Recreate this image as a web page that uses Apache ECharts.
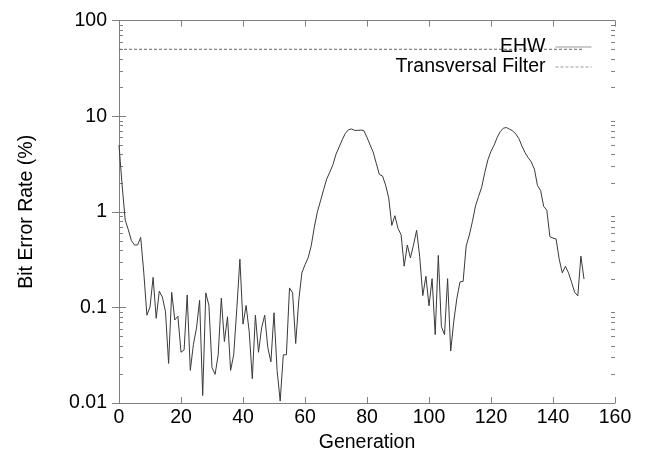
<!DOCTYPE html>
<html>
<head>
<meta charset="utf-8">
<script src="https://cdn.jsdelivr.net/npm/echarts@6/dist/echarts.min.js"></script>
<style>
html,body{margin:0;padding:0;background:#fff;}
#chart{width:646px;height:458px;}
</style>
</head>
<body>
<div id="chart"></div>
<script>
// EHW bit error rate per generation (generation = index, 0..150)
var ehw = [
 5.0, 1.9, 0.82, 0.65, 0.50, 0.45, 0.45, 0.54, 0.23, 0.083,
 0.101, 0.206, 0.077, 0.148, 0.128, 0.09, 0.026, 0.144, 0.074, 0.081,
 0.034, 0.036, 0.135, 0.022, 0.041, 0.061, 0.119, 0.012, 0.142, 0.105,
 0.0235, 0.020, 0.032, 0.125, 0.044, 0.080, 0.022, 0.032, 0.097, 0.32,
 0.067, 0.105, 0.056, 0.018, 0.083, 0.034, 0.061, 0.083, 0.038, 0.027,
 0.088, 0.022, 0.0105, 0.032, 0.032, 0.160, 0.142, 0.042, 0.12, 0.23,
 0.28, 0.33, 0.44, 0.69, 1.0, 1.3, 1.7, 2.2, 2.6, 3.1,
 4.0, 4.75, 5.65, 6.6, 7.2, 7.35, 7.1, 7.1, 7.15, 7.05,
 6.0, 5.0, 4.2, 3.2, 2.45, 2.37, 1.9, 1.4, 0.72, 0.91,
 0.67, 0.575, 0.27, 0.45, 0.33, 0.45, 0.64, 0.34, 0.133, 0.212,
 0.104, 0.20, 0.052, 0.35, 0.063, 0.052, 0.20, 0.035, 0.072, 0.125,
 0.185, 0.187, 0.44, 0.57, 0.79, 1.15, 1.45, 1.81, 2.58, 3.5,
 4.3, 4.97, 6.0, 6.9, 7.5, 7.6, 7.3, 7.03, 6.5, 5.82,
 4.85, 4.14, 3.68, 3.32, 2.79, 1.88, 1.67, 1.14, 1.04, 0.55,
 0.53, 0.52, 0.32, 0.23, 0.27, 0.23, 0.183, 0.144, 0.132, 0.344,
 0.198
];
// Transversal filter (constant)
var tfGen = [0, 150];
var tfValue = [50, 50];

var seriesNames = ['EHW', 'Transversal Filter'];
var xTicks = [0, 20, 40, 60, 80, 100, 120, 140, 160];
var yTicks = [0.01, 0.1, 1, 10, 100];
var yTickLabels = ['0.01', '0.1', '1', '10', '100'];
var yMinorTicks = [0.02,0.03,0.04,0.05,0.06,0.07,0.08,0.09,
                   0.2,0.3,0.4,0.5,0.6,0.7,0.8,0.9,
                   2,3,4,5,6,7,8,9,
                   20,30,40,50,60,70,80,90];

var FONT = 'Liberation Sans, Arial, Helvetica, sans-serif';
var AXIS_COLOR = '#808080';
var FS = 19.5;

function yLabel(v) {
  var best = 0, bd = Infinity;
  for (var i = 0; i < yTicks.length; i++) {
    var d = Math.abs(Math.log10(v) - Math.log10(yTicks[i]));
    if (d < bd) { bd = d; best = i; }
  }
  return yTickLabels[best];
}

var ehwData = ehw.map(function (v, i) { return [i, v]; });
var tfData = tfGen.map(function (g, i) { return [g, tfValue[i]]; });
var minorData = yMinorTicks.map(function (v) { return [xTicks[0], v]; });

var chart = echarts.init(document.getElementById('chart'), null, {renderer: 'canvas'});
chart.setOption({
  animation: false,
  backgroundColor: '#ffffff',
  textStyle: {fontFamily: FONT},
  grid: {left: 119, right: 31, top: 20.5, bottom: 49, containLabel: false},
  legend: {
    data: [
      {name: seriesNames[0], itemStyle: {opacity: 0}, lineStyle: {color: '#999', width: 1}},
      {name: seriesNames[1], itemStyle: {opacity: 0}, lineStyle: {color: '#999', width: 1}}
    ],
    orient: 'vertical',
    align: 'right',
    right: 49,
    top: 32,
    itemWidth: 36,
    itemHeight: 14,
    itemGap: 0,
    lineStyle: {width: 1},
    itemStyle: {opacity: 0},
    textStyle: {fontSize: FS, color: '#000', fontFamily: FONT, lineHeight: 19, padding: [0, 5, 0, 0]}
  },
  xAxis: [{
    type: 'value', position: 'bottom', min: xTicks[0], max: xTicks[xTicks.length - 1], interval: 20,
    name: 'Generation', nameLocation: 'middle', nameGap: 26,
    nameTextStyle: {fontSize: FS, color: '#000', fontFamily: FONT},
    axisLine: {show: true, lineStyle: {color: AXIS_COLOR, width: 1}},
    axisTick: {show: true, inside: true, length: 6, lineStyle: {color: AXIS_COLOR}},
    axisLabel: {fontSize: FS, color: '#000', margin: 5, fontFamily: FONT},
    splitLine: {show: false}
  }, {
    type: 'value', position: 'top', min: xTicks[0], max: xTicks[xTicks.length - 1], interval: 20,
    axisLine: {show: true, lineStyle: {color: AXIS_COLOR, width: 1}},
    axisTick: {show: true, inside: true, length: 6, lineStyle: {color: AXIS_COLOR}},
    axisLabel: {show: false},
    splitLine: {show: false}
  }],
  yAxis: [{
    type: 'log', logBase: 10, position: 'left', min: yTicks[0], max: yTicks[yTicks.length - 1],
    name: 'Bit Error Rate (%)', nameLocation: 'middle', nameGap: 82, nameRotate: 90,
    nameTextStyle: {fontSize: FS, color: '#000', fontFamily: FONT},
    axisLine: {show: true, lineStyle: {color: AXIS_COLOR, width: 1}},
    axisTick: {show: true, inside: true, length: 7, lineStyle: {color: AXIS_COLOR}},
    axisLabel: {fontSize: FS, color: '#000', margin: 12, fontFamily: FONT, formatter: yLabel},
    splitLine: {show: false}
  }, {
    type: 'log', logBase: 10, position: 'right', min: yTicks[0], max: yTicks[yTicks.length - 1],
    axisLine: {show: true, lineStyle: {color: AXIS_COLOR, width: 1}},
    axisTick: {show: true, inside: true, length: 7, lineStyle: {color: AXIS_COLOR}},
    axisLabel: {show: false},
    splitLine: {show: false}
  }],
  series: [{
    name: seriesNames[0], type: 'line', data: ehwData, xAxisIndex: 0, yAxisIndex: 0,
    symbol: 'none', showSymbol: false, smooth: false,
    lineStyle: {color: '#3a3a3a', width: 1},
    itemStyle: {color: '#999'}
  }, {
    name: seriesNames[1], type: 'line', data: tfData, xAxisIndex: 0, yAxisIndex: 0,
    symbol: 'none', showSymbol: false,
    lineStyle: {color: '#666', width: 1, type: [3, 2]},
    itemStyle: {color: '#888'}
  }, {
    name: 'minorTicks', type: 'custom', xAxisIndex: 0, yAxisIndex: 0, data: minorData,
    silent: true, clip: false,
    renderItem: function (params, api) {
      var cs = params.coordSys;
      var y = Math.round(api.coord([api.value(0), api.value(1)])[1]) + 0.5;
      var L = 4;
      return {
        type: 'group',
        children: [
          {type: 'line', shape: {x1: cs.x, y1: y, x2: cs.x + L, y2: y}, style: {stroke: AXIS_COLOR, lineWidth: 1}},
          {type: 'line', shape: {x1: cs.x + cs.width - L, y1: y, x2: cs.x + cs.width, y2: y}, style: {stroke: AXIS_COLOR, lineWidth: 1}}
        ]
      };
    }
  }]
});
</script>
</body>
</html>
